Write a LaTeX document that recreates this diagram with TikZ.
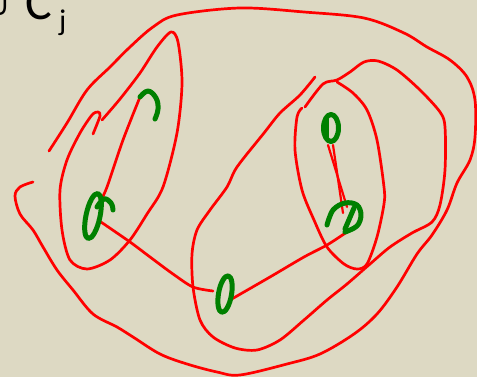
\documentclass[tikz,border=0pt]{standalone}
\usepackage{fontspec}
\newfontfamily\txtfont{Carlito}
\newfontfamily\symfont{DejaVu Sans}
\definecolor{bg}{RGB}{221,217,195}
\definecolor{pen}{RGB}{255,0,0}
\definecolor{ink}{RGB}{0,128,0}
\tikzset{
  redline/.style={draw=pen, line width=2.7pt, line cap=round, line join=round},
  redthin/.style={draw=pen, line width=2.2pt, line cap=round, line join=round},
  greenline/.style={draw=ink, line width=5pt, line cap=round, line join=round},
  lbl/.style={inner sep=0pt, anchor=base west, text=black}
}
\begin{document}
\begin{tikzpicture}[x=1pt,y=-1pt]
\fill[bg] (0,0) rectangle (477,377);
\useasboundingbox (0,0) rectangle (477,377);

% label
\node[inner sep=0pt, anchor=base east] (cup) at (11,16) {\symfont\fontsize{30}{30}\selectfont ∪};
\node[lbl] (cc) at (25,20) {\txtfont\fontsize{50}{50}\selectfont C};
\node[lbl] (jj) at (59,31) {\txtfont\fontsize{30}{30}\selectfont j};

% named points of the green marks
\coordinate (g1) at (93,216);
\coordinate (g2) at (140,97);
\coordinate (g3) at (225,294);
\coordinate (g4) at (347,232);
\coordinate (g5) at (331,128);

% outer loop
\draw[redline] plot[smooth, tension=0.55] coordinates {
 (49,151) (67,123) (87,90) (110,67) (130,47) (153,27) (177,15) (240,8)
 (304,12) (364,18) (404,33) (427,47) (450,60) (467,77) (475,100) (475,137)
 (470,160) (457,183) (447,210) (432,235) (417,254) (397,287) (377,314)
 (354,334) (320,354) (287,364) (240,375) (217,372) (187,364) (160,354)
 (133,337) (117,327) (93,314) (73,290) (57,270) (43,247) (33,230)
 (20,214) (15,196) (20,187) (33,182)};

% left leaf loop
\draw[redline] plot[smooth, tension=0.5] coordinates {
 (102,120) (120,99) (140,73) (157,47) (171,32) (178,42) (182,83) (177,133)
 (163,187) (147,214) (130,240) (110,260) (87,269) (70,260) (62,230)
 (60,190) (67,160) (80,133) (92,115) (98,112) (100,116) (93,134)};

% middle loop
\draw[redline] plot[smooth, tension=0.5] coordinates {
 (315,77) (300,95) (280,113) (264,133) (237,167) (227,187) (210,210)
 (197,230) (192,254) (193,287) (200,320) (213,337) (235,348) (257,350)
 (280,340) (304,320) (327,300) (347,284) (370,264) (390,247) (412,233)
 (432,222) (440,205) (445,170) (445,127) (440,112) (420,90) (397,70)
 (378,61) (364,62) (350,72) (337,80) (323,84) (305,107)};

% inner right loop
\draw[redline] plot[smooth, tension=0.5] coordinates {
 (302,108) (297,117) (295,150) (302,190) (314,220) (327,247) (344,264)
 (357,269) (367,264) (377,237) (384,204) (384,187) (377,140) (367,110)
 (353,93) (337,82)};

% edges
\draw[redline] plot[smooth, tension=0.5] coordinates {(g2) (123,140) (107,187) (100,202)};
\draw[redline] plot[smooth, tension=0.5] coordinates {(98,220) (130,242) (150,257) (173,274) (193,287) (213,291)};
\draw[redline] plot[smooth, tension=0.5] coordinates {(230,300) (270,277) (304,257) (327,245) (g4)};
\draw[redthin] (328,145) -- (347,207);
\draw[redthin] (333,145) -- (343,213);

% green marks
\draw[greenline, rotate around={-12:(g1)}] (g1) ellipse [x radius=7pt, y radius=23pt];
\draw[greenline] plot[smooth, tension=0.7] coordinates {(97,207) (104,199) (111,203) (113,210)};
\draw[greenline] plot[smooth, tension=0.7] coordinates {(g2) (148,91) (156,98) (158,109) (155,119)};
\draw[greenline, rotate around={-10:(g3)}] (g3) ellipse [x radius=6.5pt, y radius=18.5pt];
\draw[greenline] plot[smooth, tension=0.6] coordinates {(327,225) (333,210) (345,203) (357,205) (361,215) (357,226) (345,232)};
\draw[greenline] (345,229) -- (354,208);
\draw[greenline] (g5) ellipse [x radius=7.5pt, y radius=13.5pt];
\draw[greenline] (326,119) -- (326,137);
\end{tikzpicture}
\end{document}
